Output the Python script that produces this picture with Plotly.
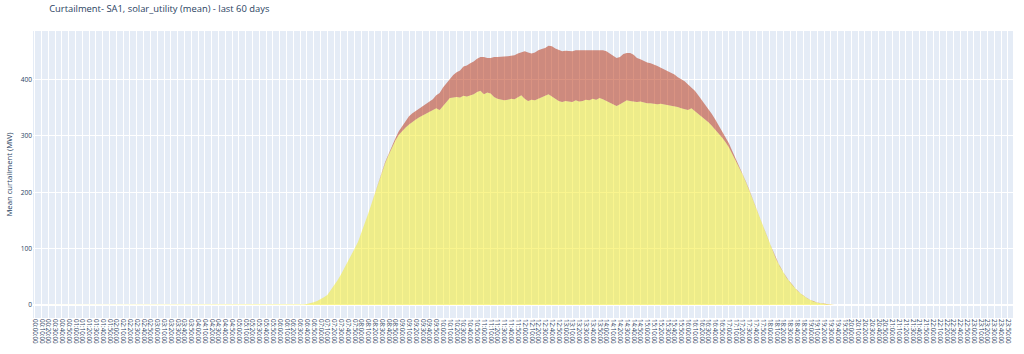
import plotly.graph_objects as go

# 5-minute interval categories
times = [f"{h:02d}:{m:02d}:00" for h in range(24) for m in range(0, 60, 5)]

# bottom series (yellow), indices 77..235 non-zero
solar_vals = [
    0.3, 0.6, 1, 2, 3, 5, 7, 10, 14, 18,
    26, 35, 44, 54, 65, 76, 88, 100, 112, 128,
    145, 162, 180, 199, 218, 234, 252, 266, 280, 292,
    302, 309, 315, 320, 325, 329, 333, 336, 339, 342,
    345, 349, 346, 354, 360, 367, 368, 369, 368, 371,
    370, 372, 374, 378, 380, 374, 377, 375, 369, 366,
    364, 363, 364, 366, 365, 368, 372, 366, 362, 364,
    363, 366, 368, 371, 374, 370, 365, 362, 360, 362,
    361, 360, 363, 361, 362, 364, 363, 366, 364, 367,
    365, 362, 360, 356, 353, 356, 360, 363, 362, 361,
    360, 361, 359, 358, 358, 357, 356, 357, 356, 355,
    354, 352, 351, 349, 347, 346, 349, 344, 340, 335,
    329, 324, 318, 311, 305, 297, 289, 280, 268, 256,
    245, 232, 218, 204, 188, 172, 156, 141, 125, 110,
    95, 80, 68, 58, 48, 40, 33, 26, 21, 16,
    12, 9, 6, 4, 3, 2, 1, 0.5, 0.2,
]
solar_utility = [0] * 77 + solar_vals + [0] * (288 - 77 - len(solar_vals))

# top series (red), indices 100..210 non-zero
curt_vals = [
    0.5, 0.8, 1, 1.5, 2, 3, 4, 6, 8, 12,
    15, 15, 15, 15, 16, 17, 18, 20, 23, 30,
    32, 34, 35, 40, 44, 48, 52, 55, 57, 58,
    59, 60, 66, 61, 63, 71, 74, 76, 77, 77,
    76, 78, 78, 76, 84, 86, 82, 85, 86, 86,
    85, 86, 89, 90, 90, 90, 89, 90, 90, 89,
    91, 90, 88, 90, 86, 89, 85, 87, 88, 86,
    86, 85, 84, 85, 84, 85, 83, 78, 75, 74,
    72, 71, 70, 68, 64, 62, 59, 58, 57, 53,
    52, 50, 45, 37, 36, 32, 29, 28, 23, 21,
    18, 13, 10, 9, 7, 5, 4, 3, 2, 1, 0.5,
]
curtailment_extra = [0] * 100 + curt_vals + [0] * (288 - 100 - len(curt_vals))

fig = go.Figure()
fig.add_trace(go.Scatter(
    x=times, y=solar_utility, mode="lines", stackgroup="one", name="solar_utility",
    line=dict(width=0, color="rgba(225,215,60,0.9)"),
    fillcolor="rgba(245,235,30,0.5)",
))
fig.add_trace(go.Scatter(
    x=times, y=curtailment_extra, mode="lines", stackgroup="one", name="curtailment",
    line=dict(width=0, color="rgba(190,90,75,0.9)"),
    fillcolor="rgba(181,40,5,0.5)",
))

fig.update_layout(
    width=1024, height=354,
    margin=dict(l=33, r=11, t=31, b=36),
    showlegend=False,
    font=dict(family="Open Sans, verdana, arial, sans-serif", size=6.6, color="#2a3f5f"),
    title=dict(text="Curtailment- SA1, solar_utility (mean) - last 60 days",
               x=0.048, xanchor="left", y=0.985, yanchor="top",
               font=dict(size=9.4)),
    plot_bgcolor="#E5ECF6",
    paper_bgcolor="white",
)
fig.update_xaxes(
    type="category", tickmode="array", tickvals=times[::2], ticktext=times[::2],
    tickangle=90, gridcolor="white", gridwidth=1, tickfont=dict(size=6.2),
    range=[-0.5, 287.5], automargin=False,
)
fig.update_yaxes(
    title=dict(text="Mean curtailment (MW)", font=dict(size=7.7), standoff=6),
    range=[-23, 486], tickvals=[0, 100, 200, 300, 400], gridcolor="white",
    zeroline=True, zerolinecolor="white", zerolinewidth=1.5, tickfont=dict(size=6.6),
    automargin=False,
)

fig.write_html("out.html")
